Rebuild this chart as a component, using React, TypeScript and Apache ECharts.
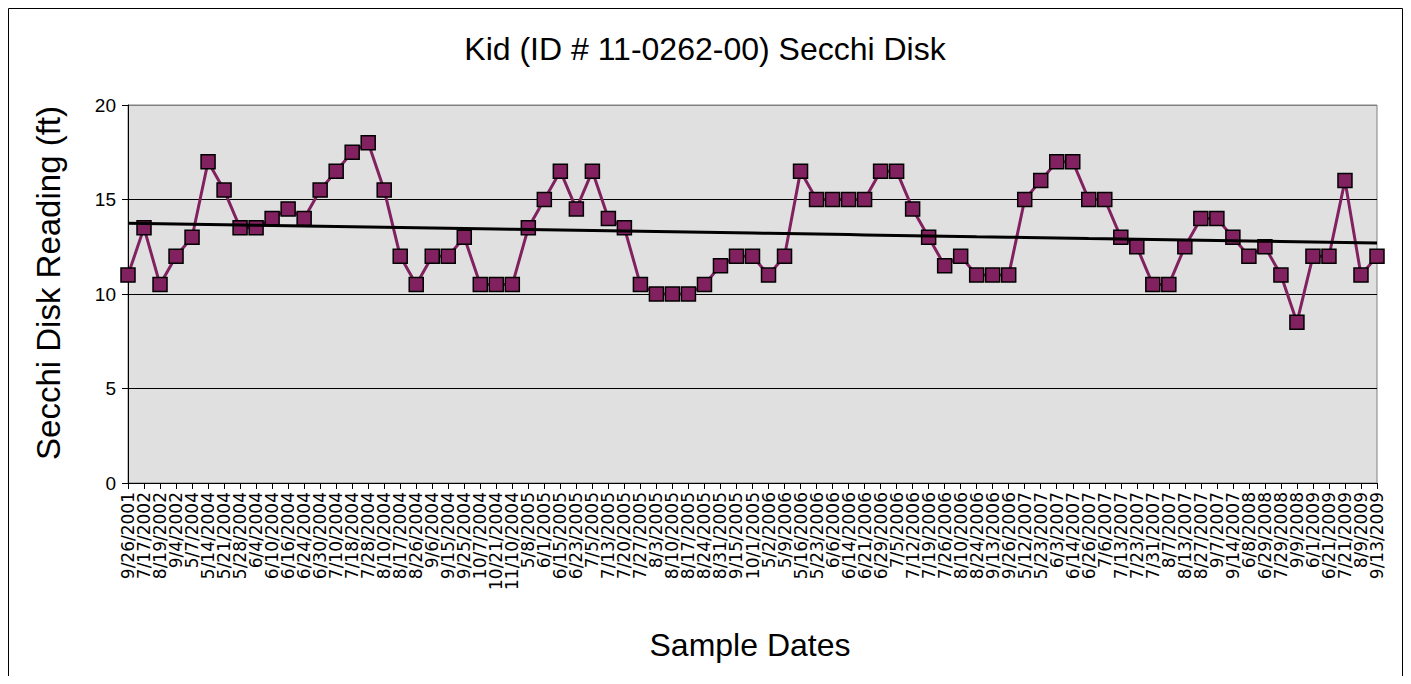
import React, { useEffect, useRef } from "react";
import * as echarts from "echarts";

const titleText = "Kid (ID # 11-0262-00) Secchi Disk";
const yAxisTitle = "Secchi Disk Reading (ft)";
const xAxisTitle = "Sample Dates";

const sampleDates = [
  "9/26/2001", "7/17/2002", "8/19/2002", "9/4/2002",
  "5/7/2004", "5/14/2004", "5/21/2004", "5/28/2004", "6/4/2004", "6/10/2004", "6/16/2004",
  "6/24/2004", "6/30/2004", "7/10/2004", "7/18/2004", "7/28/2004", "8/10/2004", "8/17/2004",
  "8/26/2004", "9/6/2004", "9/15/2004", "9/25/2004", "10/7/2004", "10/21/2004", "11/10/2004",
  "5/8/2005", "6/1/2005", "6/15/2005", "6/23/2005", "7/5/2005", "7/13/2005", "7/20/2005",
  "7/27/2005", "8/3/2005", "8/10/2005", "8/17/2005", "8/24/2005", "8/31/2005", "9/15/2005",
  "10/1/2005",
  "5/2/2006", "5/9/2006", "5/16/2006", "5/23/2006", "6/6/2006", "6/14/2006", "6/21/2006",
  "6/29/2006", "7/5/2006", "7/12/2006", "7/19/2006", "7/26/2006", "8/10/2006", "8/24/2006",
  "9/13/2006", "9/26/2006",
  "5/12/2007", "5/23/2007", "6/3/2007", "6/14/2007", "6/26/2007", "7/6/2007", "7/13/2007",
  "7/23/2007", "7/31/2007", "8/7/2007", "8/13/2007", "8/27/2007", "9/7/2007", "9/14/2007",
  "6/8/2008", "6/29/2008", "7/29/2008", "9/9/2008",
  "6/1/2009", "6/21/2009", "7/21/2009", "8/9/2009", "9/13/2009",
];

const secchiFt = [
  11, 13.5, 10.5, 12,
  13, 17, 15.5, 13.5, 13.5, 14, 14.5,
  14, 15.5, 16.5, 17.5, 18, 15.5, 12,
  10.5, 12, 12, 13, 10.5, 10.5, 10.5,
  13.5, 15, 16.5, 14.5, 16.5, 14, 13.5,
  10.5, 10, 10, 10, 10.5, 11.5, 12,
  12,
  11, 12, 16.5, 15, 15, 15, 15,
  16.5, 16.5, 14.5, 13, 11.5, 12, 11,
  11, 11,
  15, 16, 17, 17, 15, 15, 13,
  12.5, 10.5, 10.5, 12.5, 14, 14, 13,
  12, 12.5, 11, 8.5,
  12, 12, 16, 11, 12,
];

const FONT = "'Liberation Sans', Arial, sans-serif";

function linearTrend(values: number[]): number[] {
  const n = values.length;
  const mx = (n - 1) / 2;
  const my = values.reduce((a, b) => a + b, 0) / n;
  let sxy = 0;
  let sxx = 0;
  values.forEach((v, i) => {
    sxy += (i - mx) * (v - my);
    sxx += (i - mx) * (i - mx);
  });
  const slope = sxy / sxx;
  const intercept = my - slope * mx;
  return values.map((_, i) => +(intercept + slope * i).toFixed(4));
}

export default function App() {
  const ref = useRef<HTMLDivElement>(null);

  useEffect(() => {
    if (!ref.current) return;
    const chart = echarts.init(ref.current, null, { renderer: "svg" });
    const trend = linearTrend(secchiFt);
    chart.setOption({
      animation: false,
      backgroundColor: "#ffffff",
      textStyle: { fontFamily: FONT },
      grid: {
        left: 120,
        right: 26,
        top: 97,
        bottom: 193,
        show: true,
        backgroundColor: "#e0e0e0",
        borderColor: "#808080",
        borderWidth: 1,
      },
      xAxis: {
        type: "category",
        data: sampleDates,
        boundaryGap: false,
        axisLine: { show: true, lineStyle: { color: "#000", width: 1 } },
        axisTick: { show: true, length: 6, interval: 0, lineStyle: { color: "#000" } },
        axisLabel: {
          interval: 0,
          rotate: 90,
          margin: 9,
          color: "#000",
          fontFamily: "'DejaVu Sans', sans-serif",
          fontSize: 17,
        },
        splitLine: { show: false },
      },
      yAxis: {
        type: "value",
        min: 0,
        max: 20,
        interval: 5,
        axisLine: { show: true, lineStyle: { color: "#000", width: 1 } },
        axisTick: { show: true, length: 6, lineStyle: { color: "#000" } },
        axisLabel: { color: "#000", fontSize: 19, fontFamily: FONT, margin: 12 },
        splitLine: {
          show: true,
          lineStyle: { color: ["#000", "#000", "#000", "#000", "#808080"], width: 1 },
        },
      },
      series: [
        {
          name: "Secchi",
          type: "line",
          data: secchiFt,
          symbol: "rect",
          symbolSize: 14,
          lineStyle: { color: "#82215f", width: 3 },
          itemStyle: { color: "#82215f", borderColor: "#000", borderWidth: 1.5 },
          z: 3,
        },
        {
          name: "Trend",
          type: "line",
          data: trend,
          showSymbol: false,
          symbol: "none",
          lineStyle: { color: "#000", width: 3 },
          z: 4,
        },
      ],
      graphic: [
        {
          type: "rect",
          shape: { x: 0.5, y: 0.5, width: 1394, height: 690 },
          style: { fill: "none", stroke: "#000", lineWidth: 1 },
          silent: true,
          z: 100,
        },
        {
          type: "text",
          x: 697,
          y: 41,
          style: {
            text: titleText,
            fontFamily: FONT,
            fontSize: 32,
            fill: "#000",
            align: "center",
            verticalAlign: "middle",
          },
        },
        {
          type: "text",
          x: 40,
          y: 275,
          rotation: Math.PI / 2,
          style: {
            text: yAxisTitle,
            fontFamily: FONT,
            fontSize: 33,
            fill: "#000",
            align: "center",
            verticalAlign: "middle",
          },
        },
        {
          type: "text",
          x: 742,
          y: 637,
          style: {
            text: xAxisTitle,
            fontFamily: FONT,
            fontSize: 32,
            fill: "#000",
            align: "center",
            verticalAlign: "middle",
          },
        },
      ],
    });
    return () => chart.dispose();
  }, []);

  return <div ref={ref} style={{ width: 1395, height: 668 }} />;
}
